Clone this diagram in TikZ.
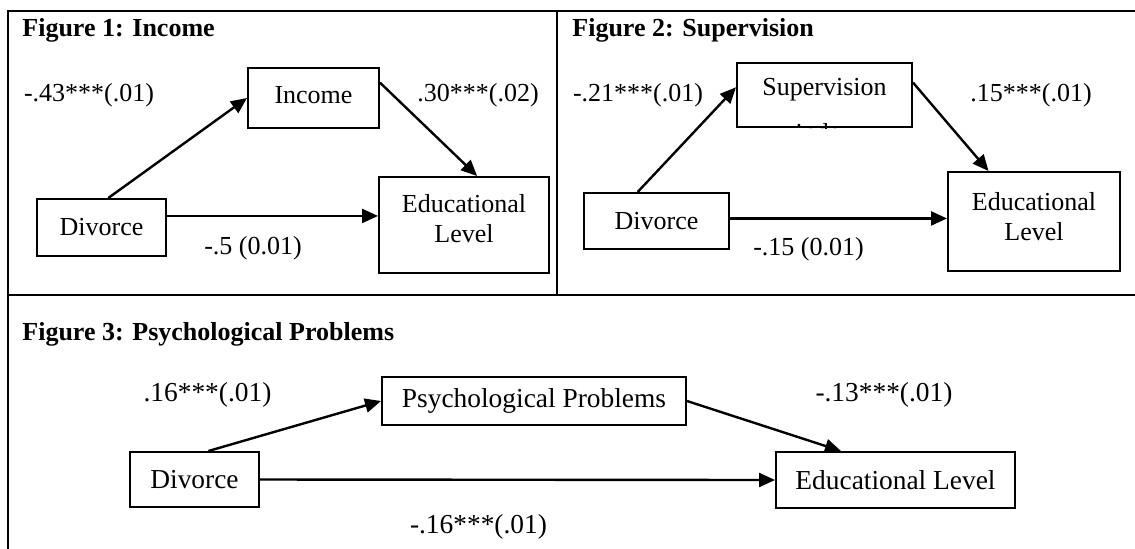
\documentclass[tikz,border=0pt]{standalone}
\usepackage{fontspec}
\setmainfont{Liberation Serif}
\usetikzlibrary{arrows.meta}

\begin{document}
\begin{tikzpicture}[x = 0.5pt, y = -0.5pt]
	\tikzstyle{frameStyle} = [line width = 1.1pt]
	\tikzstyle{boxStyle} = [draw, line width = 1pt, inner sep = 0pt, align = center, font = \fontsize{13}{15}\selectfont]
	\tikzstyle{coefStyle} = [inner sep = 0pt, font = \fontsize{13}{15}\selectfont]
	\tikzstyle{bigStyle} = [font = \fontsize{13.7}{16}\selectfont]
	\tikzstyle{titleStyle} = [anchor = base west, inner sep = 0pt, font = \fontsize{13}{15}\selectfont\bfseries]
	\tikzstyle{arrowStyle} = [line width = 1.2pt, -{Triangle[length = 8pt, width = 7pt]}]
	\useasboundingbox (0, 0) rectangle (1135, 548);
	\coordinate (c0) at (8, 11);
	\coordinate (c1) at (1140, 11);
	\coordinate (c2) at (8, 555);
	\coordinate (c3) at (557, 11);
	\coordinate (c4) at (557, 295);
	\coordinate (c5) at (8, 295);
	\coordinate (c6) at (1140, 295);
	\draw[frameStyle] (c1) -- (c0) -- (c2);
	\draw[frameStyle] (c3) -- (c4);
	\draw[frameStyle] (c5) -- (c6);
	\node[titleStyle] (t1) at (22, 36) {Figure 1: Income};
	\node[coefStyle] (p1) at (89, 95) {-.43***(.01)};
	\node[boxStyle, minimum width = 65.5pt, minimum height = 30pt, text depth = 3pt] (inc) at (313.5, 98) {Income};
	\node[coefStyle] (p2) at (478, 95) {.30***(.02)};
	\node[boxStyle, minimum width = 64.5pt, minimum height = 28.5pt] (div1) at (101.5, 227.5) {Divorce};
	\node[boxStyle, minimum width = 85pt, minimum height = 48pt, text depth = 7pt] (edu1) at (464, 225) {Educational\\Level};
	\node[coefStyle] (p3) at (253, 248) {-.5 (0.01)};
	\draw[arrowStyle] (div1.77) -- (inc.west);
	\draw[arrowStyle] (inc.13) -- (edu1.75);
	\draw[arrowStyle] (div1.10) -- (div1.10 -| edu1.west);
	\node[titleStyle] (t2) at (572, 36) {Figure 2: Supervision};
	\node[coefStyle] (q1) at (638, 95) {-.21***(.01)};
	\node[boxStyle, minimum width = 87.5pt, minimum height = 32pt] (sup) at (824.5, 95) {};
	\node[coefStyle] (supText) at (824.5, 90) {Supervision};
	\begin{scope}
		\clip (sup.south west) rectangle (sup.north east);
		\node[coefStyle, anchor = base] (supMore) at (824.5, 141) {index};
	\end{scope}
	\node[coefStyle] (q2) at (1031, 95) {.15***(.01)};
	\node[boxStyle, minimum width = 72.5pt, minimum height = 28pt] (div2) at (656.5, 221) {Divorce};
	\node[boxStyle, minimum width = 86pt, minimum height = 49.5pt, text depth = 5.5pt] (edu2) at (1034, 221.5) {Educational\\Level};
	\node[coefStyle] (q3) at (808.5, 249) {-.15 (0.01)};
	\draw[arrowStyle] (div2.123) -- (sup.175);
	\draw[arrowStyle] (sup.8) -- (edu2.132);
	\draw[arrowStyle] (div2.2) -- (div2.2 -| edu2.west);
	\node[titleStyle] (t3) at (22, 340) {Figure 3: Psychological Problems};
	\node[coefStyle, bigStyle] (r1) at (207.5, 395) {.16***(.01)};
	\node[boxStyle, bigStyle, minimum width = 152pt, minimum height = 24pt] (psy) at (534, 401) {Psychological Problems};
	\node[coefStyle, bigStyle] (r2) at (884, 395) {-.13***(.01)};
	\node[boxStyle, bigStyle, minimum width = 64.5pt, minimum height = 27.5pt] (div3) at (194.5, 479.5) {Divorce};
	\node[boxStyle, bigStyle, minimum width = 119.5pt, minimum height = 28pt] (edu3) at (895.5, 480) {Educational Level};
	\node[coefStyle, bigStyle] (r3) at (478.5, 527) {-.16***(.01)};
	\draw[arrowStyle] (div3.64) -- (psy.west);
	\draw[arrowStyle] (psy.east) -- (edu3.152);
	\draw[arrowStyle] (div3.east) -- (edu3.west);
\end{tikzpicture}
\end{document}
